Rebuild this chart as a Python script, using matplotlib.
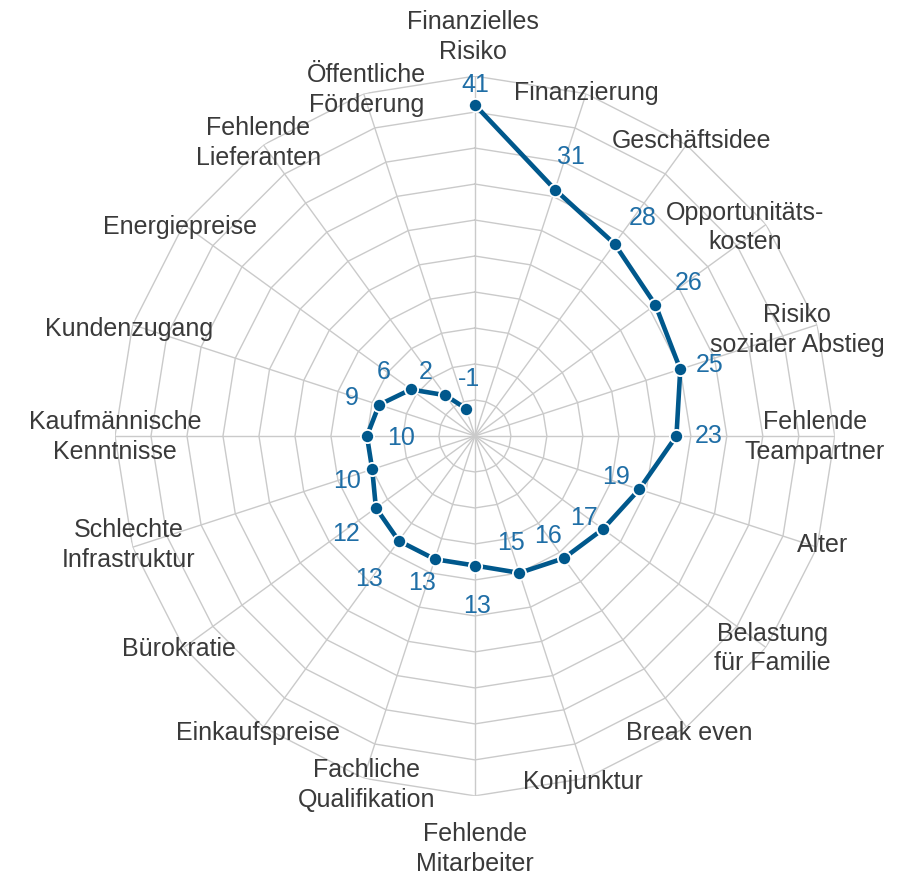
import numpy as np
import matplotlib.pyplot as plt

plt.rcParams['font.family'] = ['Liberation Sans', 'DejaVu Sans']

categories = [
    "Finanzielles\nRisiko", "Finanzierung", "Geschäftsidee", "Opportunitäts-\nkosten",
    "Risiko\nsozialer Abstieg", "Fehlende\nTeampartner", "Alter", "Belastung\nfür Familie",
    "Break even", "Konjunktur", "Fehlende\nMitarbeiter", "Fachliche\nQualifikation",
    "Einkaufspreise", "Bürokratie", "Schlechte\nInfrastruktur", "Kaufmännische\nKenntnisse",
    "Kundenzugang", "Energiepreise", "Fehlende\nLieferanten", "Öffentliche\nFörderung",
]
values = [41, 31, 28, 26, 25, 23, 19, 17, 16, 15, 13, 13, 13, 12, 10, 10, 9, 6, 2, -1]

r_min, r_max, r_step = -5, 45, 5

# label nudges in pixels (x right, y up)
value_offsets = [(0, 21), (16, 34), (28, 27), (33, 23), (29, 5), (32, 1), (-23, 13), (-19, 12),
                 (-16, 23), (-8, 31), (2, -39), (-13, -23), (-30, -37), (-30, -25), (-25, -11),
                 (34, -1), (-27, 8), (-27, 18), (-20, 24), (3, 31)]
cat_offsets = [(-2, 40), (0, 2), (5, 5), (-21, -2), (-20, -4), (-20, 0), (5, 3), (6, 0), (3, -5),
               (-3, -3), (0, -52), (3, -6), (-5, -5), (-5, 0), (-4, 3), (0, 0), (-4, -3),
               (-4, -2), (-5, 3), (3, 5)]

line_color = '#00588c'
value_color = '#1f6ea6'
text_color = '#3a3a3a'
grid_color = '#cacaca'

n = len(categories)
theta = np.linspace(0, 2 * np.pi, n, endpoint=False)
theta_closed = np.append(theta, theta[0])

fig = plt.figure(figsize=(9.02, 8.78), dpi=100)
ax = fig.add_axes([0.1275, 0.0923, 0.798, 0.820], projection='polar')
ax.set_theta_offset(np.pi / 2)
ax.set_theta_direction(-1)
ax.set_ylim(r_min, r_max)
ax.grid(False)
ax.spines['polar'].set_visible(False)
ax.set_xticks([])
ax.set_yticks([])
ax.patch.set_alpha(0)

# polygon grid
for r in np.arange(r_min + r_step, r_max + 0.1, r_step):
    ax.plot(theta_closed, [r] * (n + 1), color=grid_color, lw=1.0, zorder=1)
for t in theta:
    ax.plot([t, t], [r_min, r_max], color=grid_color, lw=1.0, zorder=1)

ax.plot(theta, values, color=line_color, lw=3.3, marker='o', markersize=9.5,
        markerfacecolor=line_color, markeredgecolor='white', markeredgewidth=1.3,
        zorder=3, clip_on=False)

for t, v, (dx, dy) in zip(theta, values, value_offsets):
    ax.annotate(str(v), xy=(t, v), xytext=(dx, dy), textcoords='offset pixels',
                ha='center', va='center', fontsize=18, color=value_color,
                annotation_clip=False)

for t, c, (dx, dy) in zip(theta, categories, cat_offsets):
    ax.annotate(c, xy=(t, r_max), xytext=(dx, dy), textcoords='offset pixels',
                ha='center', va='center', fontsize=18, color=text_color,
                linespacing=1.3, annotation_clip=False)

fig.savefig('out.png', dpi=100, facecolor='white')
